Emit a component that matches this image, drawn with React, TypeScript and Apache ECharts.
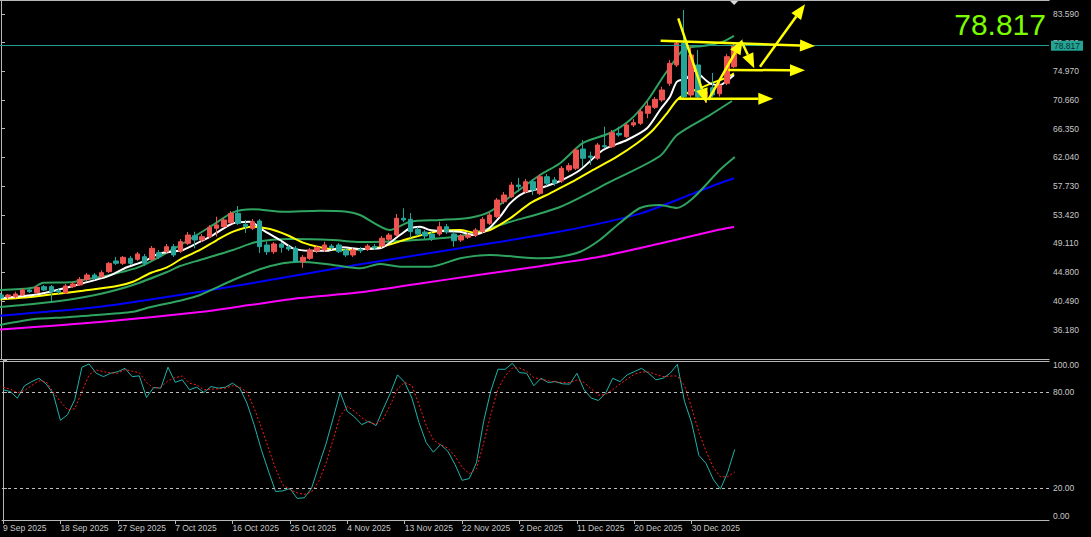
import React, { useEffect, useRef } from "react";
import * as echarts from "echarts";

// ---------- DATA ----------
const dateLabels = [
  "9 Sep 2025", "18 Sep 2025", "27 Sep 2025", "7 Oct 2025", "16 Oct 2025",
  "25 Oct 2025", "4 Nov 2025", "13 Nov 2025", "22 Nov 2025", "2 Dec 2025",
  "11 Dec 2025", "20 Dec 2025", "30 Dec 2025",
];
const dateLabelBars = [0, 8, 16, 24, 32, 40, 48, 56, 64, 72, 80, 88, 96];
const priceTicks = [83.59, 79.28, 74.97, 70.66, 66.35, 62.04, 57.73, 53.42, 49.11, 44.8, 40.49, 36.18];
const stochTicks = [100, 80, 20, 0];
const stochLevels = [80, 20];

// [open, close, low, high] per daily bar
const ohlc: [number, number, number, number][] = [
  [41.37, 40.92, 40.62, 41.67], [41.07, 41.37, 40.77, 41.52], [41.11, 41.52, 40.87, 41.86], [41.37, 42.12, 41.22, 42.42],
  [42.12, 41.86, 41.67, 42.34], [41.71, 42.52, 41.52, 42.79], [42.62, 42.12, 41.97, 42.87], [42.62, 41.86, 40.36, 42.87],
  [42.04, 41.82, 41.52, 42.42], [41.67, 42.72, 41.52, 43.02], [42.61, 43.02, 42.42, 43.32], [42.87, 43.72, 42.72, 44.07],
  [43.72, 44.37, 43.47, 44.67], [44.37, 43.87, 43.62, 44.67], [44.12, 44.72, 43.92, 45.08], [44.87, 46.13, 44.67, 46.33],
  [46.48, 46.13, 45.88, 47.08], [46.13, 47.03, 45.88, 47.23], [46.88, 46.13, 45.88, 47.23], [46.73, 47.53, 46.48, 47.83],
  [47.12, 46.13, 45.72, 47.53], [46.73, 48.38, 46.48, 48.73], [47.72, 47.12, 46.78, 48.13], [47.87, 48.63, 47.68, 49.03],
  [48.63, 47.38, 47.08, 49.03], [47.98, 49.38, 47.68, 49.78], [49.13, 50.38, 48.88, 50.83], [50.28, 49.63, 48.38, 50.88],
  [49.63, 50.13, 49.33, 50.53], [50.13, 51.54, 49.93, 51.89], [51.39, 51.89, 50.13, 53.13], [51.63, 52.64, 51.44, 52.94],
  [52.23, 53.64, 52.04, 53.99], [53.64, 52.14, 51.89, 54.74], [51.99, 51.63, 50.68, 52.64], [51.39, 52.38, 51.13, 52.79],
  [52.49, 48.63, 47.68, 52.79], [48.88, 47.87, 47.38, 49.38], [47.87, 49.03, 47.53, 49.33], [49.03, 48.53, 47.72, 49.33],
  [48.58, 48.28, 47.98, 48.88], [48.38, 46.37, 46.17, 48.73], [46.37, 47.03, 45.47, 47.38], [46.88, 48.13, 46.63, 48.43],
  [48.02, 48.53, 47.68, 48.88], [48.13, 48.88, 47.83, 49.38], [48.73, 48.48, 48.13, 49.03], [48.88, 47.87, 47.68, 49.18],
  [48.13, 47.38, 47.08, 48.43], [47.38, 48.13, 47.08, 48.43], [48.23, 48.02, 47.68, 48.58], [48.23, 48.73, 47.98, 49.03],
  [48.65, 48.43, 48.13, 49.03], [48.73, 49.89, 48.43, 50.23], [49.74, 50.38, 49.48, 50.68], [50.38, 52.89, 50.08, 53.54],
  [52.89, 52.64, 52.34, 54.39], [52.74, 50.88, 49.93, 53.69], [51.24, 50.53, 50.23, 51.58], [50.83, 50.23, 49.78, 51.13],
  [50.53, 49.93, 49.48, 50.83], [50.53, 51.63, 50.23, 52.38], [51.63, 50.88, 50.53, 52.04], [50.53, 49.53, 48.63, 50.88],
  [49.63, 50.23, 49.33, 50.53], [50.04, 50.38, 49.78, 50.68], [50.38, 51.13, 50.08, 51.44], [50.88, 52.74, 50.68, 53.09],
  [52.14, 53.39, 51.89, 53.84], [53.13, 55.64, 52.94, 55.94], [55.39, 56.39, 55.04, 56.84], [56.14, 57.89, 55.94, 58.35],
  [57.89, 57.64, 56.89, 58.95], [56.89, 58.39, 56.69, 58.8], [58.39, 57.14, 56.39, 58.8], [56.64, 59.14, 56.39, 59.55],
  [59.14, 58.15, 57.75, 59.55], [58.65, 58.15, 57.75, 59.1], [58.5, 60.41, 58.2, 60.75], [60.15, 60.8, 59.85, 61.2],
  [60.41, 63.15, 60.15, 63.45], [63.3, 61.91, 60.65, 64.66], [62.25, 62.06, 60.9, 62.9], [61.91, 63.91, 61.65, 64.21],
  [63.8, 63.65, 63.41, 66.66], [63.65, 65.75, 63.45, 66.16], [65.66, 65.41, 65.15, 66.66], [65.15, 66.91, 64.96, 67.21],
  [66.91, 67.26, 66.61, 67.81], [67.17, 68.91, 66.91, 69.32], [68.67, 69.77, 67.92, 70.41], [69.57, 70.77, 69.32, 71.12],
  [70.67, 72.17, 70.37, 72.67], [73.18, 76.18, 72.77, 76.68], [75.93, 79.19, 75.63, 79.53], [79.19, 71.16, 70.92, 84.19],
  [71.42, 77.43, 71.0, 78.9], [75.93, 71.16, 70.67, 78.18], [71.12, 71.87, 70.22, 72.47], [72.5, 71.42, 71.12, 74.73],
  [71.6, 72.9, 71.2, 73.6], [73.18, 77.18, 72.9, 77.6], [75.67, 78.817, 75.47, 79.1],
];

// indicator lines: [bar index, price]
const bbUpper: [number, number][] = [
  [-0.2, 42.12], [4.45, 42.46], [5.84, 43.22], [9.6, 43.28], [11.4, 43.62], [15.17, 44.37], [19.34, 45.62], [24.49, 48.58],
  [29.5, 51.89], [32.28, 53.79], [35.06, 54.24], [39.23, 53.88], [44.38, 54.03], [48.14, 53.88], [49.95, 53.39], [54.12, 51.13],
  [56.9, 52.38], [61.1, 52.64], [65.25, 52.98], [68.03, 53.88], [70.82, 56.14], [75, 59.4], [77.77, 61.16], [80.97, 64.21],
  [84.73, 65.71], [87.51, 67.66], [90, 70.67], [92.1, 74.13], [93.77, 76.68], [94.88, 78.18], [96.14, 78.63], [97.67, 78.78],
  [100.45, 79.43], [101.98, 80.29],
];
const bbMiddle: [number, number][] = [
  [-0.2, 39.56], [4.45, 40.02], [9.18, 40.62], [13.77, 41.52], [18.37, 42.87], [23.1, 44.82], [24.9, 45.72], [27.69, 46.63],
  [32.28, 48.13], [35.5, 49.33], [40.2, 49.78], [46.2, 49.63], [49.95, 49.33], [55.5, 49.48], [63.86, 50.23], [70.8, 52.34],
  [77.77, 54.59], [84.73, 58.35], [91.69, 62.25], [94.05, 65.41], [98.64, 68.41], [101.7, 70.52],
];
const bbLower: [number, number][] = [
  [-0.2, 36.86], [4.45, 37.72], [9.2, 38.02], [11.4, 38.21], [18.4, 38.86], [20.7, 39.52], [25.3, 40.62], [27.7, 41.37],
  [32.3, 43.62], [36, 45.23], [39.2, 46.13], [41.6, 46.37], [46.2, 45.88], [50, 45.38], [52.7, 46.02], [55.5, 45.62],
  [59.7, 45.62], [63.9, 46.88], [68, 47.38], [75, 46.88], [77.8, 47.12], [80.6, 47.87], [83.3, 49.63], [86.1, 52.19],
  [88.9, 54.44], [91.7, 54.89], [94, 54.44], [96.3, 55.94], [100, 60.15], [102.1, 62.1],
];
const maFast: [number, number][] = [
  [-0.2, 40.87], [4.45, 41.37], [6.82, 41.86], [11.4, 43.13], [14.75, 44.12], [17.53, 45.53], [19.76, 46.37], [22.12, 47.63],
  [25.32, 48.13], [27.69, 49.38], [29.5, 50.38], [32.28, 52.14], [34.64, 52.38], [36.45, 51.13], [38.82, 49.63], [40.63, 48.38],
  [42.99, 48.02], [45.36, 48.02], [47.58, 48.53], [49.95, 48.28], [52.73, 48.38], [55.51, 50.38], [56.9, 51.39], [58.3, 51.63],
  [59.69, 51.13], [61.08, 50.98], [63.86, 50.88], [65.67, 50.38], [67.62, 51.13], [69.43, 53.13], [70.82, 55.14], [72.63, 56.65],
  [75, 57.4], [77.77, 58.5], [80.56, 60.15], [83.76, 63.15], [87.1, 64.66], [89.88, 66.42], [91.69, 69.17], [93.08, 71.16],
  [94.05, 73.42], [95.44, 73.93], [96.28, 75.18], [97.25, 74.42], [98.64, 73.18], [100.03, 72.92], [101.15, 73.67], [101.98, 74.42],
];
const maSlow: [number, number][] = [
  [-0.2, 40.72], [4.45, 41.11], [9.18, 41.71], [11.4, 42.01], [16.14, 42.72], [18.37, 43.36], [20.73, 44.63], [23.1, 45.53],
  [25.32, 46.93], [27.69, 48.13], [30.05, 49.63], [32.28, 50.88], [34.92, 51.63], [37.43, 51.28], [39.79, 50.38], [42.02, 49.23],
  [44.38, 48.53], [47.17, 48.13], [49.95, 48.23], [52.73, 48.53], [56.9, 49.89], [61.08, 51.03], [63.86, 51.13], [65.95, 50.73],
  [68.03, 51.13], [70.82, 52.89], [73.6, 55.14], [76.38, 56.65], [79.44, 58.35], [82.37, 60.15], [85.7, 62.15], [88.49, 64.16],
  [90.71, 66.16], [92.66, 68.67], [94.05, 70.67], [95.44, 71.68], [97.25, 72.43], [99.06, 73.27], [101.0, 74.08], [101.98, 74.68],
];
const maBlue: [number, number][] = [
  [-0.2, 38.26], [13.8, 39.6], [27.7, 41.85], [41.6, 44.4], [50, 46.0], [63.9, 48.4], [77.8, 50.9], [88.9, 53.6],
  [96.3, 56.6], [100, 58.15], [102, 58.9],
];
const maMagenta: [number, number][] = [
  [-0.2, 36.18], [13.8, 37.3], [27.7, 38.8], [34.6, 39.85], [41.6, 40.9], [50, 41.77], [58.3, 43.1], [66.6, 44.4],
  [75, 45.7], [83.3, 47.1], [91.7, 49.1], [100, 51.2], [102, 51.6],
];

const stochK = [
  81.4, 80.3, 76.2, 83.9, 86.5, 88.6, 85.1, 79, 62.3, 65.8, 75.2, 95.5, 97.5, 91.7, 89.6, 91.7, 92.7, 94.8, 89.6, 90.1,
  76.6, 82.8, 82.4, 95.5, 86.1, 87.6, 81.4, 83, 79.7, 83.4, 82.4, 83, 85.5, 82.4, 73.1, 59.6, 44.1, 30.6, 17.8, 18.2,
  19.7, 13.5, 13.9, 19.7, 33.7, 47.2, 63.2, 79.7, 67.9, 64.4, 59.6, 61.7, 59, 69.4, 79.3, 90.7, 86, 76.2, 60.7, 48.3,
  42.4, 47.2, 43, 34.8, 24.8, 25.9, 35.8, 61.7, 80.7, 94.2, 94.2, 97.9, 92.1, 91.7, 83.9, 88.6, 85.9, 86.5, 85.1, 84.9,
  91.7, 81.4, 76.2, 74.7, 79.3, 88.6, 86.5, 90.7, 92.7, 94.8, 91.7, 87.6, 88.6, 91.7, 97.3, 74.1, 60.7, 40.4, 35.4, 25.5,
  19.3, 29.6, 44.1,
];
const stochD = [
  83, 81.8, 79.5, 81, 84, 87, 86.5, 80, 74, 69, 69.5, 80.3, 90.7, 93.8, 92.7, 92, 91.7, 94, 93, 92,
  86, 82.4, 83, 87, 89, 90, 85.5, 84.5, 81.4, 81.8, 82, 82.4, 83.9, 83, 80, 70, 58, 45, 32, 22,
  19, 17, 16, 17.5, 24, 35, 50, 65, 71, 68, 64, 61, 60, 63, 72, 82, 86, 84, 72, 59,
  50, 47, 45, 40, 33, 29, 32, 48, 66, 82, 90, 95, 95, 93, 89, 88, 87, 86.3, 86, 85.9,
  87.5, 86, 82, 78, 78.5, 81.5, 85, 88, 91, 92.5, 92.5, 91, 89.6, 90, 90, 84, 70, 55, 43, 33,
  27, 27, 30,
];

// hand-drawn arrows: [bar1, price1, bar2, price2] (head at the second point)
const arrows: [number, number, number, number][] = [
  [91.78, 79.58, 113.25, 78.78],
  [101.19, 75.18, 111.86, 75.13],
  [94.23, 70.86, 107.45, 70.86],
  [94.23, 82.94, 98.18, 70.17],
  [98.41, 70.67, 103.19, 79.79],
  [103.05, 79.43, 104.8, 75.43],
  [105.6, 75.67, 111.86, 85.05],
];

// ---------- STYLE ----------
const FONT = "Liberation Sans";
const AXIS = "#b8b8b8";
const LABEL = "#c8c8c8";
const UP = "#ef5350";
const DOWN = "#26a69a";
const GREEN = "#2fa360";
const X_MIN = -0.1391;
const X_MAX = 145.809;

export default function App() {
  const ref = useRef<HTMLDivElement>(null);

  useEffect(() => {
    const el = ref.current!;
    const chart = echarts.init(el, undefined, { renderer: "svg" });
    const lastClose = ohlc[ohlc.length - 1][1];

    const candleData = ohlc.map((d, i) => [i, d[0], d[1], d[2], d[3]]);
    const lineSeries = (name: string, data: [number, number][], color: string, width: number) => ({
      name,
      type: "line",
      xAxisIndex: 0,
      yAxisIndex: 0,
      data,
      showSymbol: false,
      symbol: "none",
      smooth: 0.25,
      lineStyle: { color, width },
      silent: true,
      z: 3,
    });

    const option: any = {
      animation: false,
      backgroundColor: "#000000",
      grid: [
        { left: 0, top: 0, width: 1049, height: 359, containLabel: false },
        { left: 0, top: 360, width: 1049, height: 160, containLabel: false },
      ],
      xAxis: [
        { type: "value", gridIndex: 0, min: X_MIN, max: X_MAX, show: false, splitLine: { show: false } },
        {
          type: "value", gridIndex: 1, min: X_MIN, max: X_MAX,
          axisLine: { show: true, lineStyle: { color: AXIS, width: 1 } },
          axisTick: { show: true, customValues: dateLabelBars, length: 4, lineStyle: { color: AXIS } },
          axisLabel: {
            show: true, customValues: dateLabelBars, align: "left", margin: 3,
            color: LABEL, fontSize: 8.5, fontFamily: FONT,
            formatter: (v: number) => dateLabels[dateLabelBars.indexOf(Math.round(v))] ?? "",
          },
          splitLine: { show: false },
        },
      ],
      yAxis: [
        {
          type: "value", gridIndex: 0, position: "right", min: 31.75, max: 85.694,
          axisLine: { show: true, lineStyle: { color: AXIS, width: 1 } },
          axisTick: { show: true, customValues: priceTicks, length: 4, lineStyle: { color: AXIS } },
          axisLabel: {
            show: true, customValues: priceTicks, margin: 4, color: LABEL, fontSize: 8.5, fontFamily: FONT,
            formatter: (v: number) => v.toFixed(3),
          },
          splitLine: { show: false },
        },
        {
          type: "value", gridIndex: 1, position: "right", min: 0, max: 100,
          axisLine: { show: true, lineStyle: { color: AXIS, width: 1 } },
          axisTick: { show: true, customValues: stochTicks, length: 4, lineStyle: { color: AXIS } },
          axisLabel: {
            show: true, customValues: stochTicks, margin: 4, color: LABEL, fontSize: 8.5, fontFamily: FONT,
            formatter: (v: number) => v.toFixed(2),
            verticalAlignMaxLabel: "bottom", verticalAlignMinLabel: "top",
          },
          splitLine: { show: false },
        },
      ],
      series: [
        lineSeries("MA slow", maMagenta, "#ff00ff", 2),
        lineSeries("MA mid", maBlue, "#0000ff", 2),
        lineSeries("BB lower", bbLower, GREEN, 2),
        lineSeries("BB middle", bbMiddle, GREEN, 2),
        lineSeries("BB upper", bbUpper, GREEN, 2),
        {
          name: "price",
          type: "candlestick",
          xAxisIndex: 0,
          yAxisIndex: 0,
          data: candleData,
          encode: { x: 0, y: [1, 2, 3, 4] },
          barWidth: 5,
          clip: true,
          silent: true,
          z: 4,
          itemStyle: { color: UP, color0: DOWN, borderColor: UP, borderColor0: DOWN, borderWidth: 1 },
          markLine: {
            silent: true,
            symbol: ["none", "none"],
            data: [{ yAxis: lastClose }],
            lineStyle: { color: "#1f9d91", width: 1, type: "solid" },
            label: {
              show: true, position: "end", distance: 2,
              formatter: () => lastClose.toFixed(3),
              backgroundColor: "#23a394", color: "#0c2e2b",
              padding: [1, 3, 0, 3], fontSize: 8.5, fontFamily: FONT,
            },
          },
        },
        lineSeries("MA 10", maSlow, "#ffff00", 2),
        lineSeries("MA 5", maFast, "#ffffff", 2),
        {
          name: "%K",
          type: "line",
          xAxisIndex: 1,
          yAxisIndex: 1,
          data: stochK.map((v, i) => [i, v]),
          showSymbol: false,
          symbol: "none",
          lineStyle: { color: "#20b2aa", width: 1 },
          silent: true,
          markLine: {
            silent: true,
            symbol: ["none", "none"],
            data: stochLevels.map((v) => ({ yAxis: v })),
            lineStyle: { color: "#bdbdbd", width: 1, type: [3, 3] },
            label: { show: false },
          },
        },
        {
          name: "%D",
          type: "line",
          xAxisIndex: 1,
          yAxisIndex: 1,
          data: stochD.map((v, i) => [i, v]),
          showSymbol: false,
          symbol: "none",
          lineStyle: { color: "#ff1a1a", width: 1, type: [2, 2] },
          silent: true,
        },
      ],
    };

    chart.setOption(option);

    const toPx = (p: number[]) => chart.convertToPixel({ gridIndex: 0 }, p) as number[];
    const graphics: any[] = [];
    const frame = { stroke: AXIS, lineWidth: 1 };
    graphics.push({ type: "line", shape: { x1: 0, y1: 0.5, x2: 1049.5, y2: 0.5 }, style: frame, silent: true });
    graphics.push({ type: "line", shape: { x1: 0, y1: 359.5, x2: 1049.5, y2: 359.5 }, style: frame, silent: true });
    graphics.push({ type: "line", shape: { x1: 0, y1: 361.5, x2: 1049.5, y2: 361.5 }, style: frame, silent: true });

    // shift marker at top
    const lastPx = toPx([ohlc.length - 1, lastClose]);
    graphics.push({
      type: "polygon",
      shape: { points: [[lastPx[0] - 4, 1], [lastPx[0] + 4, 1], [lastPx[0], 5]] },
      style: { fill: "#d8d8d8" },
      silent: true,
    });

    arrows.forEach((a) => {
      const p1 = toPx([a[0], a[1]]);
      const p2 = toPx([a[2], a[3]]);
      const dx = p2[0] - p1[0];
      const dy = p2[1] - p1[1];
      const len = Math.hypot(dx, dy);
      const ux = dx / len;
      const uy = dy / len;
      const L = 15;
      const W = 6;
      const bx = p2[0] - ux * L;
      const by = p2[1] - uy * L;
      graphics.push({
        type: "line",
        shape: { x1: p1[0], y1: p1[1], x2: bx, y2: by },
        style: { stroke: "#ffff00", lineWidth: 2.5 },
        silent: true,
        z: 20,
      });
      graphics.push({
        type: "polygon",
        shape: { points: [[p2[0], p2[1]], [bx - uy * W, by + ux * W], [bx + uy * W, by - ux * W]] },
        style: { fill: "#ffff00" },
        silent: true,
        z: 20,
      });
    });

    graphics.push({
      type: "text",
      x: 1046,
      y: 24,
      style: {
        text: lastClose.toFixed(3),
        fill: "#7cfc00",
        fontSize: 30,
        fontFamily: FONT,
        align: "right",
        verticalAlign: "middle",
      },
      silent: true,
      z: 20,
    });

    chart.setOption({ graphic: graphics });

    return () => chart.dispose();
  }, []);

  return (
    <div
      ref={ref}
      style={{ position: "fixed", left: 0, top: 0, width: 1091, height: 537, background: "#000" }}
    />
  );
}
